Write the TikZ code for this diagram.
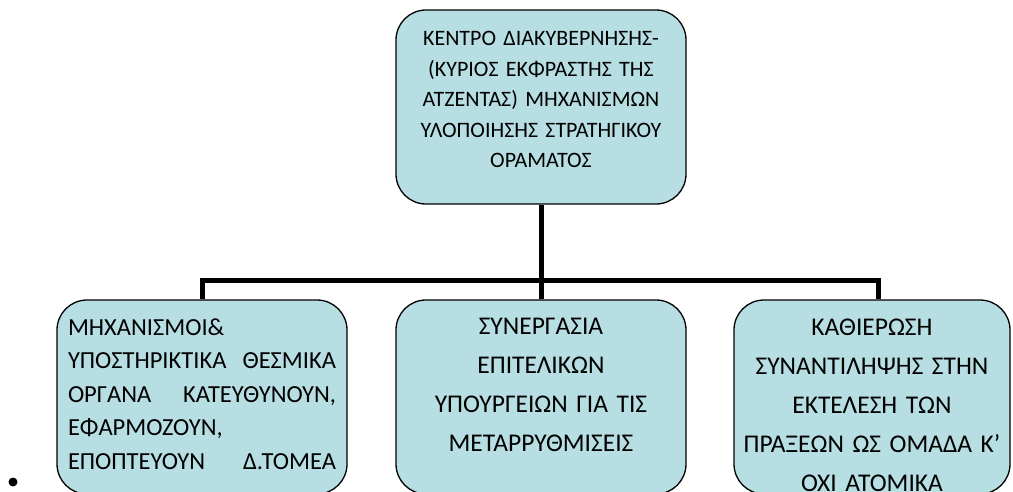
\documentclass[tikz,border=0pt]{standalone}
\usepackage{fontspec}
\setmainfont{Carlito}
\usetikzlibrary{positioning}
\definecolor{boxfill}{RGB}{183,222,226}

\begin{document}
\begin{tikzpicture}[x=1pt,y=-1pt,
                    box node/.style={rectangle,rounded corners=30pt,draw,line width=1.3pt,
                                     fill=boxfill,minimum width=290pt,minimum height=194pt},
                    text node/.style={text width=268pt,inner sep=0pt,
                                      font=\fontsize{25.5}{39}\selectfont},
                    head text/.style={text node,font=\fontsize{22}{30.5}\selectfont},
                    link/.style={line width=5pt}]

  \useasboundingbox (0,0) rectangle (1013,491);
  \clip (0,0) rectangle (1013,491);

  % boxes
  \node[box node] (C) at (541,107) {};
  \node[box node] (M) at (202,397) {};
  \node[box node] (S) at (541,397) {};
  \node[box node,minimum width=276pt] (K) at (872,397) {};

  % texts
  \node[head text,align=center,below=22pt of C.north] (Ct)
    {ΚΕΝΤΡΟ ΔΙΑΚΥΒΕΡΝΗΣΗΣ-\\(ΚΥΡΙΟΣ ΕΚΦΡΑΣΤΗΣ ΤΗΣ\\ΑΤΖΕΝΤΑΣ) ΜΗΧΑΝΙΣΜΩΝ\\
     ΥΛΟΠΟΙΗΣΗΣ ΣΤΡΑΤΗΓΙΚΟΥ\\ΟΡΑΜΑΤΟΣ};
  \node[text node,align=left,font=\fontsize{24.5}{33.5}\selectfont,below=19pt of M.north] (Mt)
    {ΜΗΧΑΝΙΣΜΟΙ\&\\ΥΠΟΣΤΗΡΙΚΤΙΚΑ\hfill ΘΕΣΜΙΚΑ\\ΟΡΓΑΝΑ\hfill ΚΑΤΕΥΘΥΝΟΥΝ,\\
     ΕΦΑΡΜΟΖΟΥΝ,\\ΕΠΟΠΤΕΥΟΥΝ\hfill Δ.ΤΟΜΕΑ};
  \node[text node,align=center,below=19pt of S.north] (St)
    {ΣΥΝΕΡΓΑΣΙΑ\\ΕΠΙΤΕΛΙΚΩΝ\\ΥΠΟΥΡΓΕΙΩΝ ΓΙΑ ΤΙΣ\\ΜΕΤΑΡΡΥΘΜΙΣΕΙΣ};
  \node[text node,align=center,below=19pt of K.north] (Kt)
    {ΚΑΘΙΕΡΩΣΗ\\ΣΥΝΑΝΤΙΛΗΨΗΣ ΣΤΗΝ\\ΕΚΤΕΛΕΣΗ ΤΩΝ\\ΠΡΑΞΕΩΝ ΩΣ ΟΜΑΔΑ Κ’\\ΟΧΙ ΑΤΟΜΙΚΑ};

  \node[circle,fill,inner sep=0pt,minimum size=9pt] (dot) at (13,482) {};

  % connectors
  \coordinate (J) at (541,280);
  \draw[link] (C) -- (J);
  \draw[link] (J) -| (M);
  \draw[link] (J) -- (S);
  \draw[link] (J) -| ([xshift=6pt]K.north);
\end{tikzpicture}
\end{document}
